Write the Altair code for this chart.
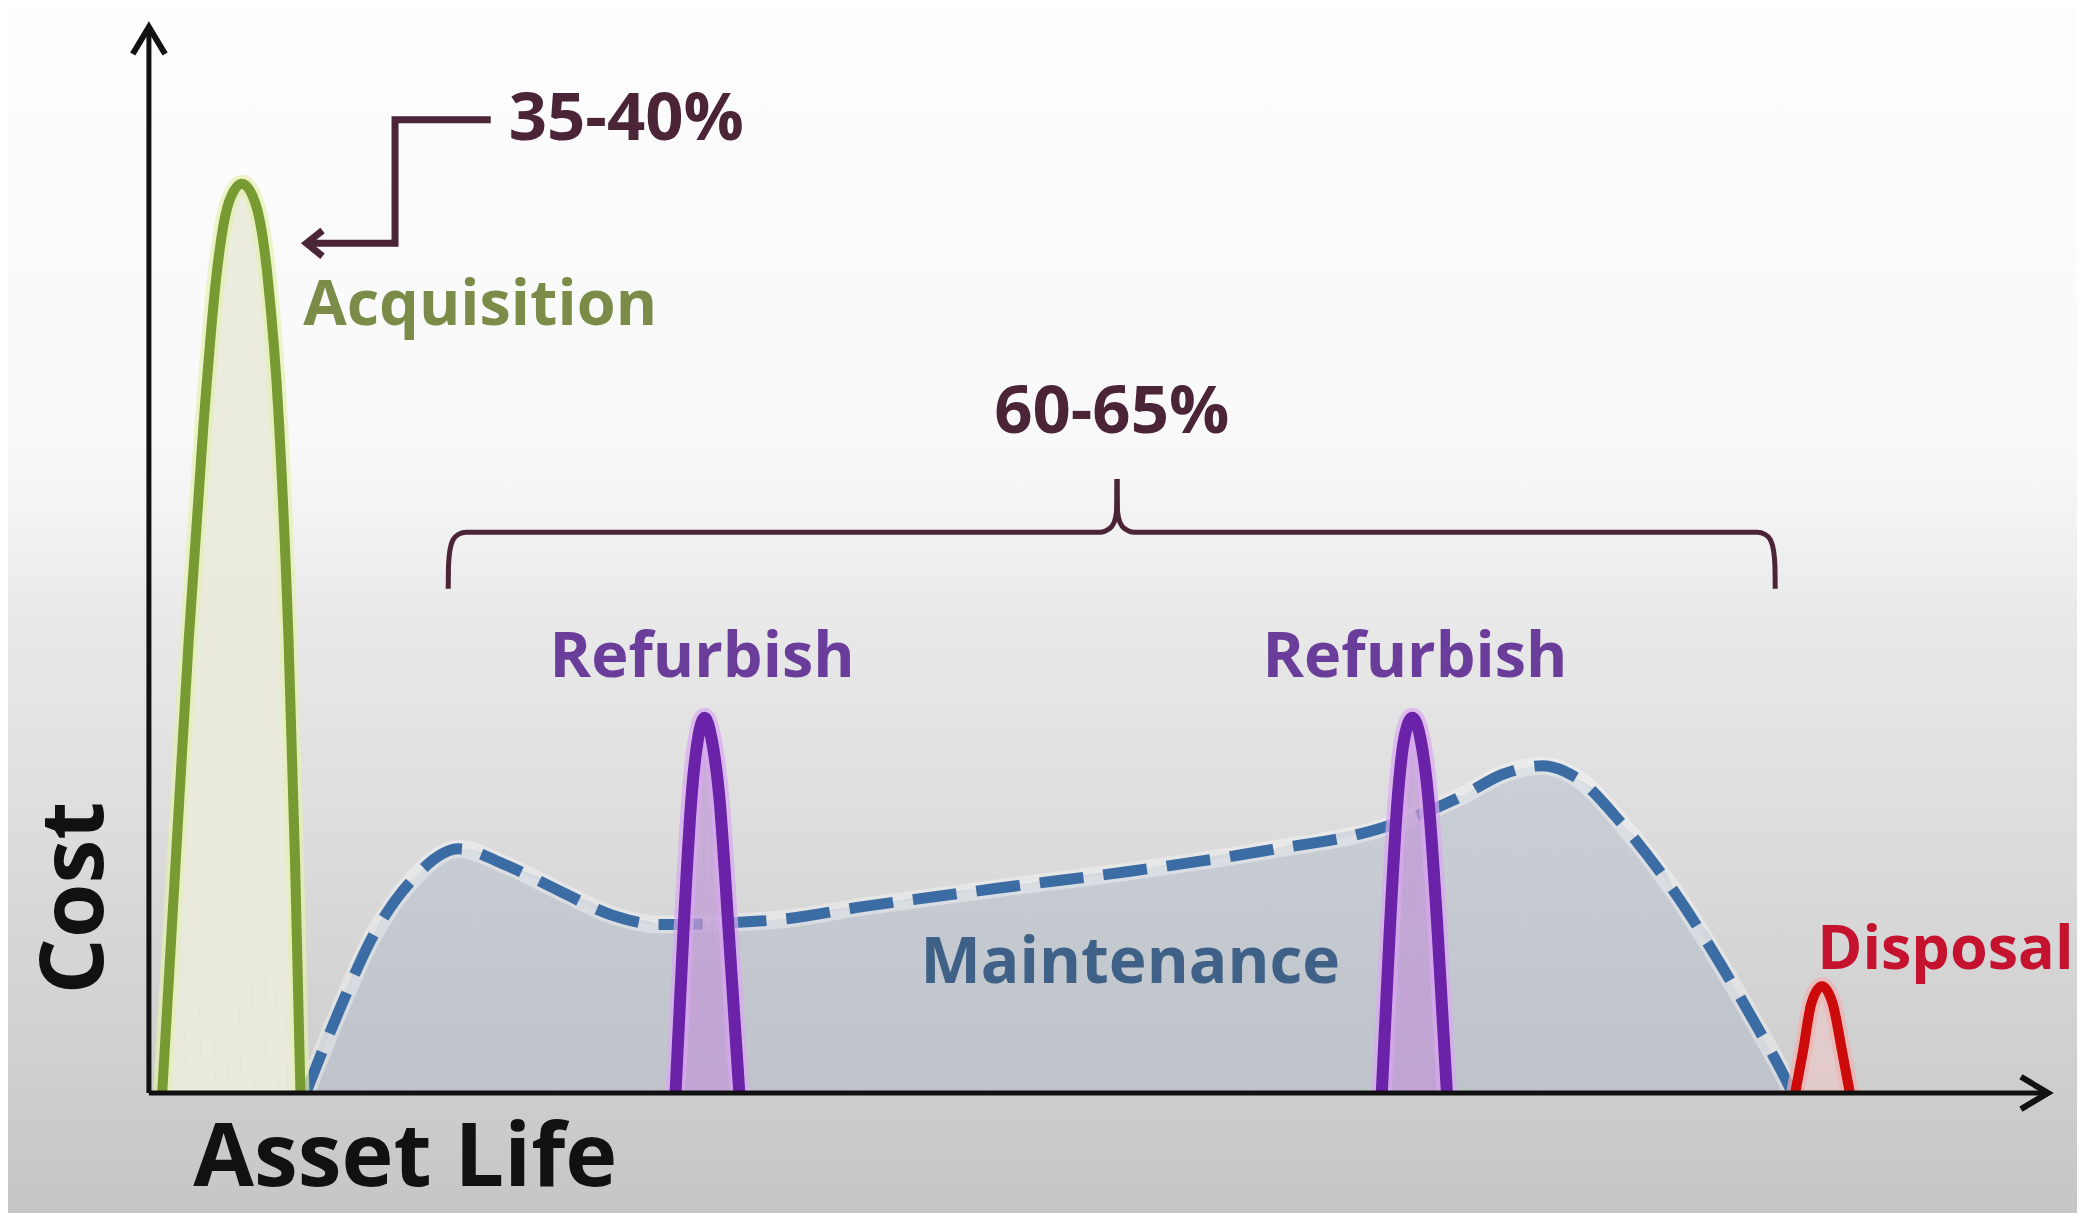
import altair as alt
import pandas as pd

# ---------------- data (x = asset life 0-100, y = cost 0-100) -------------
acq_x = [0.70, 1.40, 2.10, 2.87, 3.57, 4.20, 4.90, 5.60, 6.23, 6.86, 7.35, 7.70, 7.98]
acq_y = [0.0, 21.4, 42.6, 62.6, 76.9, 83.5, 85.3, 83.5, 76.9, 62.6, 42.6, 21.4, 0.0]

ref1_x = [27.73, 28.15, 28.57, 28.92, 29.27, 29.62, 30.04, 30.53, 31.09]
ref2_x = [64.92, 65.34, 65.76, 66.11, 66.53, 66.95, 67.37, 67.86, 68.35]
ref_y = [0.0, 15.2, 27.7, 33.3, 35.2, 33.3, 27.7, 15.2, 0.0]

disp_x = [86.69, 87.11, 87.54, 88.10, 88.66, 89.15, 89.57]
disp_y = [0.0, 4.0, 8.4, 10.0, 8.4, 4.0, 0.0]

maint_x = [8.26, 10.01, 11.76, 13.87, 16.32, 18.77, 21.57, 24.37, 26.82, 32.77, 37.68,
           44.68, 51.68, 58.68, 64.99, 69.19, 71.29, 73.39, 75.14, 77.59, 80.39, 83.19,
           84.59, 86.13, 86.55]
maint_y = [0.0, 7.7, 14.6, 20.0, 22.9, 21.4, 19.0, 16.7, 15.8, 16.2, 17.5,
           19.2, 20.8, 22.7, 24.9, 27.9, 29.9, 30.7, 29.6, 25.2, 18.7, 10.8,
           6.5, 1.5, 0.0]

bracket_x = [15.76, 15.78, 15.86, 16.02, 16.30, 16.70, 50.10, 50.55, 50.82, 50.95, 50.98,
             85.64, 85.62, 85.54, 85.38, 85.10, 84.70, 51.86, 51.41, 51.14, 51.01, 50.98]
bracket_y = [47.3, 49.6, 51.0, 51.9, 52.4, 52.6, 52.6, 52.9, 53.5, 54.5, 57.6,
             47.3, 49.6, 51.0, 51.9, 52.4, 52.6, 52.6, 52.9, 53.5, 54.5, 57.6]
bracket_part = ["left"] * 11 + ["right"] * 11

conn_x = [18.0, 12.96, 12.96, 8.3]
conn_y = [91.3, 91.3, 79.7, 79.7]

label_text = ["35-40%", "Acquisition", "60-65%", "Refurbish", "Refurbish", "Maintenance", "Disposal"]
label_x = [25.14, 17.44, 50.70, 29.13, 66.67, 51.68, 94.60]
label_y = [91.3, 73.8, 63.8, 40.8, 40.8, 12.1, 13.3]
label_color = ["#4b2537", "#7b8c48", "#4b2537", "#6a3d9a", "#6a3d9a", "#3f6188", "#c4122f"]
label_size = [67, 63, 67, 63, 63, 64, 61]

title_text = ["Cost", "Asset Life"]
title_x = [-2.4, 13.5]
title_y = [18.3, -8.73]
title_angle = [270, 0]

# ---------------- layout ----------------
W, H = 2069, 1205
xs = alt.Scale(domain=[-7.42, 101.53], nice=False, zero=False)
ys = alt.Scale(domain=[-11.26, 101.78], nice=False, zero=False)


def X(f="x"):
    return alt.X(f"{f}:Q", scale=xs, axis=None)


def Y(f="y"):
    return alt.Y(f"{f}:Q", scale=ys, axis=None)


def hump(xv, yv):
    return pd.DataFrame({"x": xv, "y": yv, "o": range(len(xv))})


# background gradient
bg = alt.Chart(pd.DataFrame({"a": [0]})).mark_rect(
    fill=alt.Gradient(
        gradient="linear",
        stops=[
            alt.GradientStop(color="#fdfdfd", offset=0),
            alt.GradientStop(color="#f9f9f9", offset=0.36),
            alt.GradientStop(color="#e8e8e8", offset=0.52),
            alt.GradientStop(color="#dadada", offset=0.72),
            alt.GradientStop(color="#c6c6c6", offset=1),
        ],
        x1=0, x2=0, y1=0, y2=1,
    )
).encode(x=alt.value(0), x2=alt.value(W), y=alt.value(0), y2=alt.value(H))

mdf = hump(maint_x, maint_y)
maint_area = alt.Chart(mdf).mark_area(interpolate="monotone", fill="#a9b6c9", opacity=0.4).encode(
    x=X(), y=Y(), order="o:Q")
maint_glow = alt.Chart(mdf).mark_line(interpolate="monotone", stroke="#ffffff", strokeWidth=18,
                                      opacity=0.35).encode(x=X(), y=Y(), order="o:Q")
maint_line = alt.Chart(mdf).mark_line(interpolate="monotone", stroke="#3b6ca3", strokeWidth=11,
                                      strokeDash=[44, 20]).encode(x=X(), y=Y(), order="o:Q")


def hump_layers(df, fill, fill_op, stroke, sw, inner):
    a = alt.Chart(df).mark_area(interpolate="monotone", fill=fill, opacity=fill_op).encode(
        x=X(), y=Y(), order="o:Q")
    g = alt.Chart(df).mark_line(interpolate="monotone", stroke=inner, strokeWidth=sw + 8,
                                opacity=0.7).encode(x=X(), y=Y(), order="o:Q")
    l = alt.Chart(df).mark_line(interpolate="monotone", stroke=stroke, strokeWidth=sw).encode(
        x=X(), y=Y(), order="o:Q")
    return [a, g, l]


acq_layers = hump_layers(hump(acq_x, acq_y), "#ebebdc", 0.95, "#789a32", 10, "#e4f0b0")
ref1_layers = hump_layers(hump(ref1_x, ref_y), "#c29ad6", 0.75, "#6a22a8", 12, "#d8a8f0")
ref2_layers = hump_layers(hump(ref2_x, ref_y), "#c29ad6", 0.75, "#6a22a8", 12, "#d8a8f0")
disp_layers = hump_layers(hump(disp_x, disp_y), "#e9c9c9", 0.8, "#cc0a0a", 10, "#f0b0b0")

# axes
axes_df = pd.DataFrame({"x": [0, 0], "y": [0, 0], "x2": [100, 0], "y2": [0, 100]})
axes = alt.Chart(axes_df).mark_rule(stroke="#111111", strokeWidth=5).encode(
    x=X(), y=Y(), x2="x2:Q", y2="y2:Q")
arrows_df = pd.DataFrame({"x": [100, 0], "y": [0, 100], "ang": [0, 270]})
arrows = alt.Chart(arrows_df).mark_point(
    shape="M-1,-0.6L0,0L-1,0.6", filled=False, stroke="#111111", strokeWidth=6, size=2916,
    opacity=1, strokeJoin="miter").encode(x=X(), y=Y(), angle=alt.Angle("ang:Q", scale=None))

# bracket and connector
bdf = pd.DataFrame({"x": bracket_x, "y": bracket_y, "part": bracket_part,
                    "o": list(range(len(bracket_x)))})
bracket = alt.Chart(bdf).mark_line(stroke="#4b2537", strokeWidth=5, interpolate="monotone").encode(
    x=X(), y=Y(), detail="part:N", order="o:Q")
cdf = hump(conn_x, conn_y)
conn = alt.Chart(cdf).mark_line(stroke="#4b2537", strokeWidth=7).encode(x=X(), y=Y(), order="o:Q")
conn_head = alt.Chart(pd.DataFrame({"x": [conn_x[-1]], "y": [conn_y[-1]]})).mark_point(
    shape="M-1,-0.8L0,0L-1,0.8", filled=False, stroke="#4b2537", strokeWidth=7, size=1024,
    opacity=1, angle=180).encode(x=X(), y=Y())

# labels
ldf = pd.DataFrame({"t": label_text, "x": label_x, "y": label_y, "c": label_color, "s": label_size})
labels = alt.Chart(ldf).mark_text(font="Open Sans", fontWeight=700, align="center",
                                  baseline="middle").encode(
    x=X(), y=Y(), text="t:N", color=alt.Color("c:N", scale=None),
    size=alt.Size("s:Q", scale=None))
tdf = pd.DataFrame({"t": title_text, "x": title_x, "y": title_y, "a": title_angle})
titles = alt.Chart(tdf).mark_text(
    font="Open Sans", fontWeight=700, fontSize=88, color="#111111", align="center",
    baseline="alphabetic").encode(x=X(), y=Y(), text="t:N", angle=alt.Angle("a:Q", scale=None))

chart = alt.layer(
    bg, maint_area, maint_glow, maint_line,
    *acq_layers, *ref1_layers, *ref2_layers, *disp_layers,
    axes, arrows, bracket, conn, conn_head, labels, titles,
).properties(
    width=W, height=H, padding=0, autosize=alt.AutoSizeParams(type="none")
).configure_view(stroke=None)

chart.save("out.html", embed_options={"renderer": "svg", "actions": False})
